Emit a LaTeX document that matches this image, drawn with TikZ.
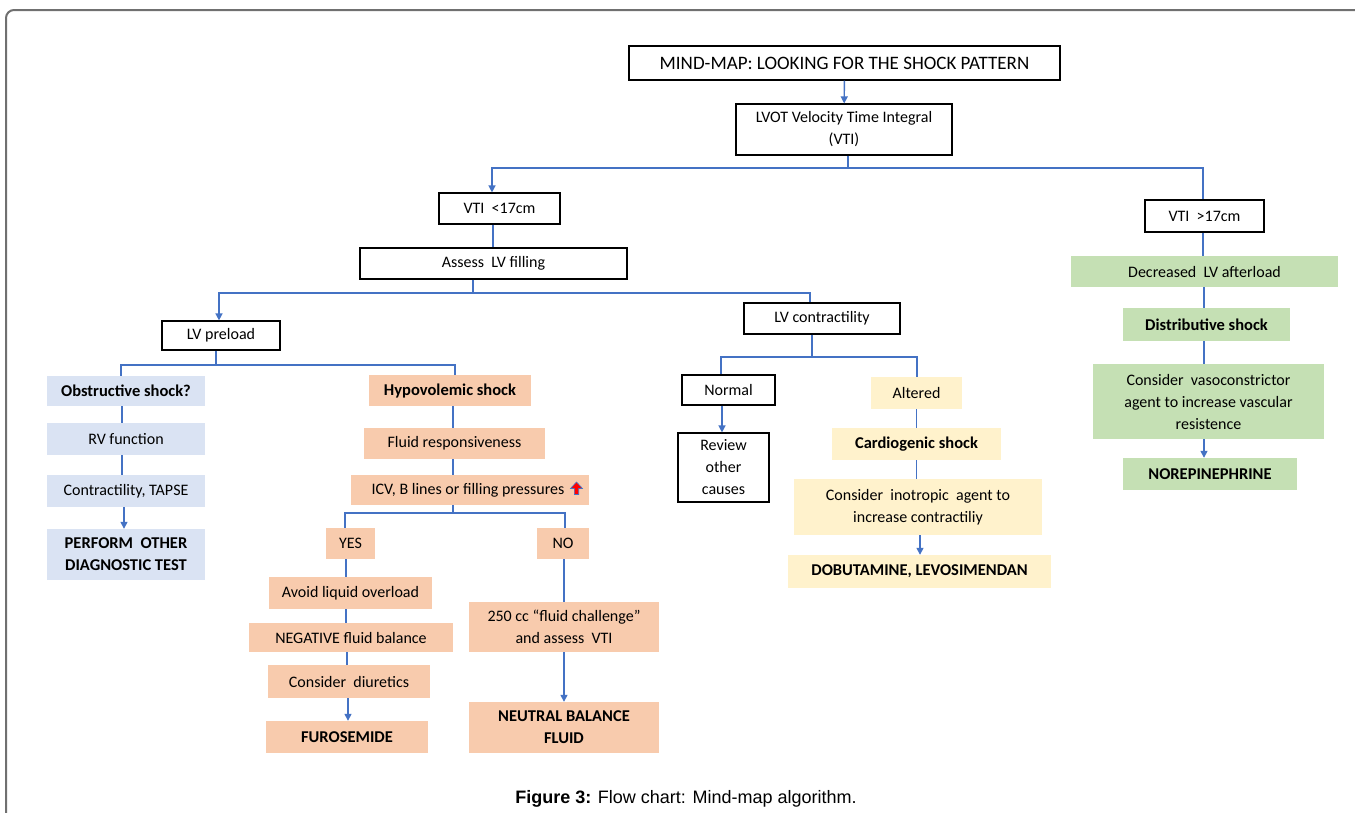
\documentclass[tikz,border=0pt]{standalone}
\usepackage{fontspec}
\setmainfont{Carlito}
\newfontfamily\capfont{Liberation Sans}
\usetikzlibrary{arrows.meta}
\definecolor{conn}{HTML}{4472C4}
\definecolor{fblue}{HTML}{DAE3F3}
\definecolor{forange}{HTML}{F8CBAD}
\definecolor{fgreen}{HTML}{C5E0B4}
\definecolor{fyellow}{HTML}{FFF2CC}
\definecolor{framegray}{HTML}{707070}
\tikzset{
  box/.style={draw=black, line width=1.2pt, fill=white, inner sep=2pt, align=center, font=\fontsize{16}{22}\selectfont},
  cbox/.style={draw=none, fill=#1, inner sep=2pt, align=center, font=\fontsize{16}{22}\selectfont},
  bbox/.style={cbox=#1, font=\fontsize{16.5}{22}\selectfont\bfseries},
  wh/.style 2 args={minimum width=#1pt, minimum height=#2pt},
  ln/.style={draw=conn, line width=1.4pt},
  arr/.style={ln, -{Triangle[width=7pt,length=7pt]}},
}
\begin{document}
\begin{tikzpicture}[x=1pt, y=-1pt]
\useasboundingbox (0,0) rectangle (1355,812);
\clip (0,0) rectangle (1355,812);
\fill[white] (0,0) rectangle (1355,812);
\draw[framegray, line width=2pt, rounded corners=8pt] (6,830) -- (6,10) -- (1370,10);

% top
\node[box, font=\fontsize{19}{22}\selectfont, wh={431}{34}] (title) at (844.5,63) {MIND-MAP: LOOKING FOR THE SHOCK PATTERN};
\node[box, wh={216}{51}] (lvot) at (844,129.5) {LVOT Velocity Time Integral\\(VTI)};
\node[box, wh={121}{31}] (vtil) at (499.5,208.5) {VTI \ <17cm};
\node[box, wh={119}{32}] (vtig) at (1204.5,216) {VTI \ >17cm};
\node[box, wh={267}{31}] (assess) at (493.5,263.5) {Assess \ LV filling};
\node[box, wh={118}{29}] (preload) at (221,335.5) {LV preload};
\node[box, wh={156}{31}] (contr) at (822,318.5) {LV contractility};

% right branch (green)
\node[cbox=fgreen, wh={267}{31}] (after) at (1204.5,271.5) {Decreased \ LV afterload};
\node[bbox=fgreen, wh={167}{33}] (distrib) at (1206.5,324.5) {Distributive shock};
\node[cbox=fgreen, wh={231}{75}] (vaso) at (1208.5,401.5) {Consider \ vasoconstrictor\\agent to increase vascular\\resistence};
\node[bbox=fgreen, wh={174}{32}] (norepi) at (1210,474) {NOREPINEPHRINE};

% obstructive (blue)
\node[bbox=fblue, wh={158}{30}] (obstr) at (126,391) {Obstructive shock?};
\node[cbox=fblue, wh={158}{32}] (rv) at (126,439) {RV function};
\node[cbox=fblue, wh={158}{32}] (tapse) at (126,491) {Contractility, TAPSE};
\node[bbox=fblue, wh={158}{51}] (perform) at (126,554.5) {PERFORM \ OTHER\\DIAGNOSTIC TEST};

% hypovolemic (orange)
\node[bbox=forange, wh={162}{31}] (hypo) at (450,390.5) {Hypovolemic shock};
\node[cbox=forange, wh={181}{31}] (fluid) at (454.5,443.5) {Fluid responsiveness};
\node[cbox=forange, wh={238}{30}] (icv) at (470,490) {ICV, B lines or filling pressures\hspace{4pt}};
\node[cbox=forange, wh={49}{31}] (yes) at (350.5,543.5) {YES};
\node[cbox=forange, wh={52}{31}] (no) at (563,543.5) {NO};
\node[cbox=forange, wh={163}{32}] (avoid) at (350.5,593) {Avoid liquid overload};
\node[cbox=forange, wh={204}{29}] (neg) at (351,637.5) {NEGATIVE fluid balance};
\node[cbox=forange, wh={162}{33}] (diur) at (349,681.5) {Consider \ diuretics};
\node[bbox=forange, wh={162}{32}] (furo) at (347,737) {FUROSEMIDE};
\node[cbox=forange, wh={190}{50}] (chal) at (564,627) {250 cc “fluid challenge”\\and assess \ VTI};
\node[bbox=forange, wh={190}{51}] (neutral) at (564,727.5) {NEUTRAL BALANCE\\FLUID};

% contractility branch
\node[box, wh={93}{30}] (normal) at (728.5,390) {Normal};
\node[box, wh={91}{69}] (review) at (723.5,467.5) {Review\\other\\causes};
\node[cbox=fyellow, wh={91}{32}] (altered) at (916.5,393) {Altered};
\node[bbox=fyellow, wh={169}{32}] (cardio) at (916.5,444) {Cardiogenic shock};
\node[cbox=fyellow, wh={248}{56}] (ino) at (918,507) {Consider \ inotropic \ agent to\\increase contractiliy};
\node[bbox=fyellow, wh={263}{33}] (dobu) at (919.5,571.5) {DOBUTAMINE, LEVOSIMENDAN};

% red up arrow in ICV box
\draw[fill=red, draw=conn, line width=0.6pt, shift={(576.5,488.5)}]
  (-2.2,6) -- (-2.2,0) -- (-6,0) -- (0,-6.5) -- (6,0) -- (2.2,0) -- (2.2,6) -- cycle;

% connectors
\draw[arr] (title) -- (lvot);
\coordinate (j1) at (848,168);
\draw[ln] (lvot.south -| j1) -- (j1);
\draw[arr] (j1) -| ([xshift=-7.5pt]vtil.north);
\draw[ln] (j1) -| ([xshift=-1.5pt]vtig.north);
\draw[ln] ([xshift=-0.5pt]assess.north |- vtil.south) -- ([xshift=-0.5pt]assess.north);

\coordinate (j2) at (473,293);
\draw[ln] (assess.south -| j2) -- (j2);
\draw[arr] (j2) -| ([xshift=-2pt]preload.north);
\draw[ln] (j2) -| ([xshift=-12pt]contr.north);

\coordinate (j3) at (216,365);
\draw[ln] (preload.south -| j3) -- (j3);
\draw[ln] (j3) -| ([xshift=-5pt]obstr.north);
\draw[ln] (j3) -| ([xshift=5pt]hypo.north);

\draw[ln] ([xshift=-4pt]obstr.south) -- ([xshift=-4pt]rv.north);
\draw[ln] ([xshift=-4pt]rv.south) -- ([xshift=-4pt]tapse.north);
\draw[arr] ([xshift=-2pt]tapse.south) -- ([xshift=-2pt]perform.north);

\draw[ln] ([xshift=3pt]hypo.south) -- ([xshift=3pt]hypo.south |- fluid.north);
\draw[ln] ([xshift=-1.5pt]fluid.south) -- ([xshift=-1.5pt]fluid.south |- icv.north);

\coordinate (j4) at (453,513);
\draw[ln] (icv.south -| j4) -- (j4);
\draw[ln] (j4) -| ([xshift=-5.5pt]yes.north);
\draw[ln] (j4) -| ([xshift=2pt]no.north);

\draw[ln] ([xshift=-4.5pt]yes.south) -- ([xshift=-4.5pt]yes.south |- avoid.north);
\draw[ln] ([xshift=-4.5pt]avoid.south) -- ([xshift=-4.5pt]avoid.south |- neg.north);
\draw[ln] ([xshift=-4pt]neg.south) -- ([xshift=-4pt]neg.south |- diur.north);
\draw[arr] ([xshift=-1pt]diur.south) -- ([xshift=-1pt]diur.south |- furo.north);
\draw[ln] ([xshift=1pt]no.south) -- ([xshift=1pt]no.south |- chal.north);
\draw[arr] (chal) -- (neutral);

\coordinate (j5) at (812,357);
\draw[ln] (contr.south -| j5) -- (j5);
\draw[ln] (j5) -| ([xshift=-7.5pt]normal.north);
\draw[ln] (j5) -| ([xshift=0.5pt]altered.north);
\draw[arr] ([xshift=-6.5pt]normal.south) -- ([xshift=-6.5pt]normal.south |- review.north);
\draw[ln] (altered) -- (cardio);
\draw[ln] (cardio.south) -- (cardio.south |- ino.north);
\draw[arr] ([xshift=2pt]ino.south) -- ([xshift=2pt]ino.south |- dobu.north);

\draw[ln] ([xshift=-1.5pt]vtig.south) -- ([xshift=-1.5pt]vtig.south |- after.north);
\draw[ln] ([xshift=-0.5pt]after.south) -- ([xshift=-0.5pt]after.south |- distrib.north);
\draw[ln] ([xshift=-2.5pt]distrib.south) -- ([xshift=-2.5pt]distrib.south |- vaso.north);
\draw[arr] ([xshift=-4.5pt]vaso.south) -- ([xshift=-4.5pt]vaso.south |- norepi.north);

% caption
\node[font=\capfont\fontsize{18}{20}\selectfont, anchor=base] (cap) at (686,803) {\textbf{Figure 3:} Flow chart: Mind-map algorithm.};
\end{tikzpicture}
\end{document}
